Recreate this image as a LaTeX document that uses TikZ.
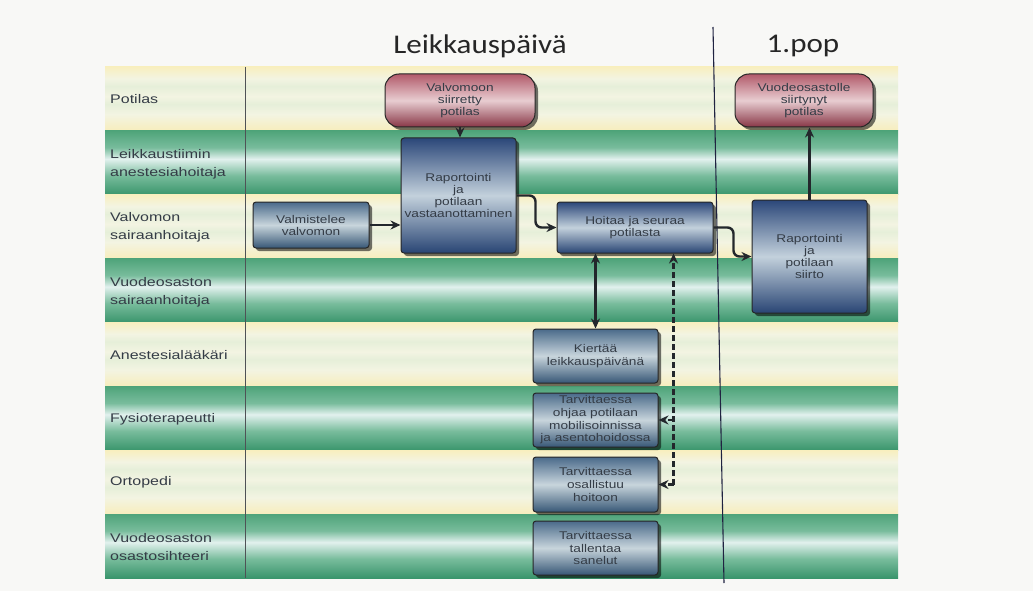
\documentclass[tikz,border=0pt]{standalone}
\usepackage{fontspec}
\setmainfont{Liberation Sans}
\newfontfamily\headfont[FakeStretch=1.15]{Carlito}
\newfontfamily\lanefont[FakeStretch=1.28]{Liberation Sans}
\newfontfamily\boxfont[FakeStretch=1.22]{Liberation Sans}
\usetikzlibrary{shadows,arrows.meta,calc}

% palette
\definecolor{paper}{HTML}{F8F8F6}
\definecolor{gtop}{HTML}{4FA47A}
\definecolor{gmid}{HTML}{78BC9C}
\definecolor{glight}{HTML}{E2F1EE}
\definecolor{gbot}{HTML}{3A956C}
\definecolor{ytop}{HTML}{F8EFBF}
\definecolor{ymid}{HTML}{F3F4E2}
\definecolor{yband}{HTML}{E6EFD9}
\definecolor{ybot}{HTML}{F7EDBC}
\definecolor{btop}{HTML}{2B4779}
\definecolor{bmid}{HTML}{C3D1DC}
\definecolor{bbot}{HTML}{294574}
\definecolor{stop}{HTML}{4A6A8A}
\definecolor{smid}{HTML}{C8D5DC}
\definecolor{sbot}{HTML}{375776}
\definecolor{ptop}{HTML}{B25A6A}
\definecolor{pmid}{HTML}{E8CDD1}
\definecolor{pbot}{HTML}{883646}
\definecolor{ink}{HTML}{343C46}
\definecolor{rule}{HTML}{23272C}

% shadings: 25bp = bottom edge, 75bp = top edge
\pgfdeclareverticalshading{greenlane}{100bp}{color(0bp)=(gbot); color(25bp)=(gbot); color(40bp)=(gmid); color(53bp)=(glight); color(62bp)=(gmid); color(75bp)=(gtop); color(100bp)=(gtop)}
\pgfdeclareverticalshading{yellowlane}{100bp}{color(0bp)=(ybot); color(25bp)=(ybot); color(38bp)=(ymid); color(46bp)=(yband); color(52bp)=(ymid); color(60bp)=(yband); color(66bp)=(ymid); color(75bp)=(ytop); color(100bp)=(ytop)}
\pgfdeclareverticalshading{navybox}{100bp}{color(0bp)=(bbot); color(25bp)=(bbot); color(50bp)=(bmid); color(75bp)=(btop); color(100bp)=(btop)}
\pgfdeclareverticalshading{steelbox}{100bp}{color(0bp)=(sbot); color(25bp)=(sbot); color(50bp)=(smid); color(75bp)=(stop); color(100bp)=(stop)}
\pgfdeclareverticalshading{pinkbox}{100bp}{color(0bp)=(pbot); color(25bp)=(pbot); color(50bp)=(pmid); color(75bp)=(ptop); color(100bp)=(ptop)}

\tikzset{
  lanelabel/.style={anchor=west, align=left, text=ink, inner sep=0pt,
    font=\lanefont\fontsize{12.5}{18}\selectfont},
  procbox/.style={draw=black!85, line width=1pt, rounded corners=3pt,
    shading=navybox, align=center, text=ink, inner sep=0pt,
    font=\boxfont\fontsize{11.2}{12}\selectfont,
    drop shadow={shadow xshift=3pt, shadow yshift=-3pt, opacity=0.55, fill=black}},
  steelproc/.style={procbox, shading=steelbox,
    font=\boxfont\fontsize{11.2}{12.6}\selectfont},
  statebox/.style={procbox, shading=pinkbox, rounded corners=14pt},
  conn/.style={draw=rule, line width=2.4pt, -{Stealth[length=10pt,width=9pt]}},
  optconn/.style={conn, dash pattern=on 6pt off 3pt, line width=2.6pt},
  header/.style={text=black!85, font=\headfont\fontsize{27}{30}\selectfont}
}

\begin{document}
\begin{tikzpicture}[x=1pt,y=-1pt]
\fill[paper] (0,0) rectangle (1033,591);
\useasboundingbox (0,0) rectangle (1033,591);

% swim lanes
\foreach \i/\sh in {0/yellowlane,1/greenlane,2/yellowlane,3/greenlane,4/yellowlane,5/greenlane,6/yellowlane,7/greenlane}{
  \shade[shading=\sh] (105,{67+\i*63.875}) rectangle (898,{67+(\i+1)*63.875});
}
\draw[rule!80, line width=0.8pt] (245,67) -- (245,578);

% phase divider and headings
\draw[rule!90!blue, line width=1.1pt] (713,27) -- (724,583);
\node[header] (hday) at (480,46) {Leikkauspäivä};
\node[header] (hpop) at (803,46) {1.pop};

% lane labels
\node[lanelabel] (l1) at (110,99) {Potilas};
\node[lanelabel] (l2) at (110,164) {Leikkaustiimin\\anestesiahoitaja};
\node[lanelabel] (l3) at (110,227) {Valvomon\\sairaanhoitaja};
\node[lanelabel] (l4) at (110,292) {Vuodeosaston\\sairaanhoitaja};
\node[lanelabel] (l5) at (110,355) {Anestesialääkäri};
\node[lanelabel] (l6) at (110,419) {Fysioterapeutti};
\node[lanelabel] (l7) at (110,482) {Ortopedi};
\node[lanelabel] (l8) at (110,547) {Vuodeosaston\\osastosihteeri};

% process steps
\node[statebox, minimum width=150pt, minimum height=53pt] (pinkA) at (460,100.5) {Valvomoon\\siirretty\\potilas};
\node[procbox, minimum width=115pt, minimum height=115pt] (rap1) at (458.5,195.5) {Raportointi\\ja\\potilaan\\vastaanottaminen};
\node[procbox, shading=steelbox, minimum width=116pt, minimum height=46pt] (valm) at (311,225) {Valmistelee\\valvomon};
\node[procbox, minimum width=156pt, minimum height=51pt] (hoit) at (635,227.5) {Hoitaa ja seuraa\\potilasta};
\node[statebox, minimum width=138pt, minimum height=53pt] (pinkB) at (804,100.5) {Vuodeosastolle\\siirtynyt\\potilas};
\node[procbox, minimum width=115pt, minimum height=113pt] (rap2) at (809.5,256.5) {Raportointi\\ja\\potilaan\\siirto};
\node[steelproc, minimum width=125pt, minimum height=54pt] (kier) at (595.5,356) {Kiertää\\leikkauspäivänä};
\node[steelproc, minimum width=125pt, minimum height=54pt] (fysio) at (595.5,420) {Tarvittaessa\\ohjaa potilaan\\mobilisoinnissa\\ja asentohoidossa};
\node[steelproc, minimum width=125pt, minimum height=55pt] (orto) at (595.5,484.5) {Tarvittaessa\\osallistuu\\hoitoon};
\node[steelproc, minimum width=125pt, minimum height=54pt] (siht) at (595.5,548) {Tarvittaessa\\tallentaa\\sanelut};

% flow
\draw[conn] (pinkA.south) -- (pinkA.south |- rap1.north);
\draw[conn] (valm.east) -- (valm.east -| rap1.west);
\draw[conn, rounded corners=6pt] (rap1.east) -- ++(19,0) |- (hoit.west);
\draw[conn, rounded corners=6pt] (hoit.east) -- ++(20,0) |- (rap2.west);
\draw[conn] (rap2.north) -- (rap2.north |- pinkB.south);
\draw[conn, {Stealth[length=10pt,width=9pt]}-{Stealth[length=10pt,width=9pt]}] (kier.north |- hoit.south) -- (kier.north);

% optional consultations
\coordinate (dj) at ([xshift=15pt]orto.east);
\draw[optconn] (dj) -- (dj |- hoit.south);
\draw[optconn] (dj |- fysio.east) -- (fysio.east);
\draw[optconn] (dj) -- (orto.east);
\end{tikzpicture}
\end{document}
